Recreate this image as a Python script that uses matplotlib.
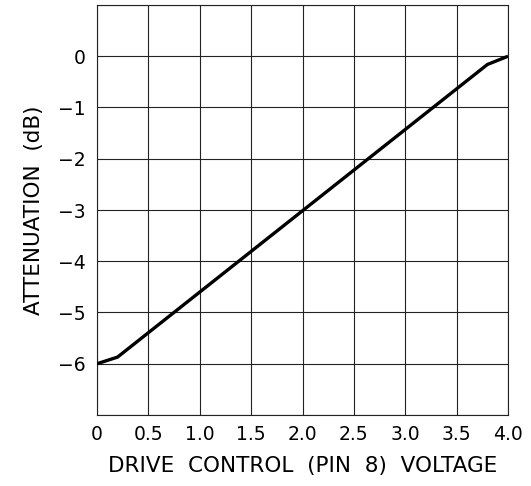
import matplotlib
matplotlib.use('Agg')
import matplotlib.pyplot as plt

# curve data
volts = [0.0, 0.2, 3.8, 4.0]
atten = [-6.0, -5.87, -0.16, 0.0]

x_ticks = [0, 0.5, 1.0, 1.5, 2.0, 2.5, 3.0, 3.5, 4.0]
x_labels = ['0', '0.5', '1.0', '1.5', '2.0', '2.5', '3.0', '3.5', '4.0']
y_ticks = [1, 0, -1, -2, -3, -4, -5, -6, -7]
y_labels = ['', '0', '\u22121', '\u22122', '\u22123', '\u22124', '\u22125', '\u22126', '']

fig = plt.figure(figsize=(5.31, 4.86), dpi=100)
ax = fig.add_axes([97 / 531, 71 / 486, 411 / 531, 410 / 486])

ax.plot(volts, atten, color='black', linewidth=2.4, solid_capstyle='butt', zorder=3)

ax.set_xlim(0, 4)
ax.set_ylim(-7, 1)
ax.set_xticks(x_ticks)
ax.set_xticklabels(x_labels, fontsize=13.5)
ax.set_yticks(y_ticks)
ax.set_yticklabels(y_labels, fontsize=13.5)
ax.tick_params(axis='x', length=0, pad=7)
ax.tick_params(axis='y', length=0, pad=8)
ax.grid(True, color='#222222', linewidth=0.8)
for s in ax.spines.values():
    s.set_color('#222222')
    s.set_linewidth(0.8)

ax.set_xlabel('DRIVE  CONTROL  (PIN  8)  VOLTAGE', fontsize=15.5, labelpad=9)
ax.set_ylabel('ATTENUATION  (dB)', fontsize=15.5, labelpad=10)

fig.savefig('out.png', dpi=100)
